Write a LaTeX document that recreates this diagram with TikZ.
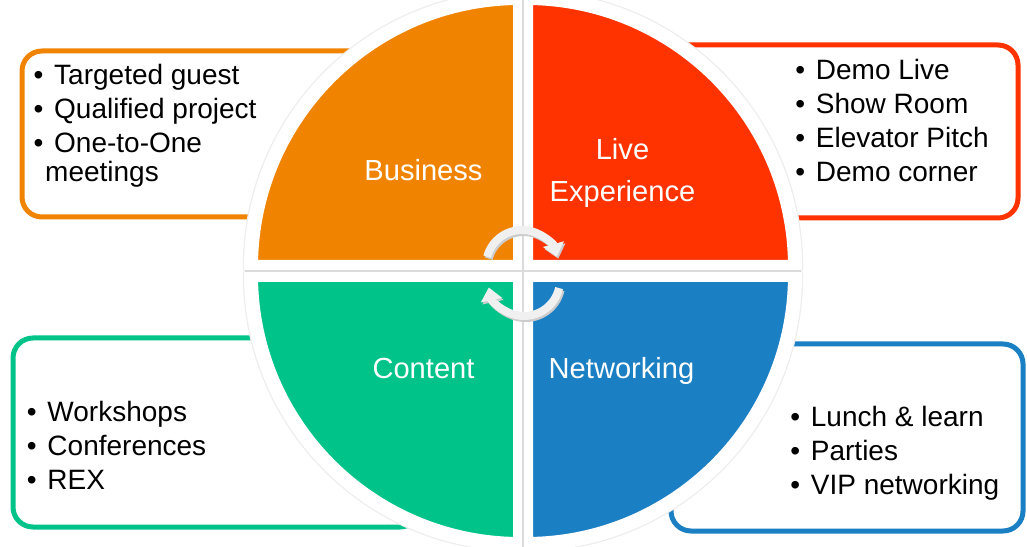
\documentclass[tikz,border=0pt]{standalone}
\usepackage{fontspec}
\setmainfont{Liberation Sans}
\usetikzlibrary{arrows.meta}
\definecolor{cOrange}{HTML}{F08300}
\definecolor{cRed}{HTML}{FF3300}
\definecolor{cGreen}{HTML}{00C389}
\definecolor{cBlue}{HTML}{1B7FC4}
\definecolor{arrowfill}{HTML}{F0F0F0}
\newcommand{\bl}{\makebox[20.5pt][l]{•}}
\begin{document}
\begin{tikzpicture}[x=1pt,y=1pt,
  infobox/.style={line width=5pt, rounded corners=20pt, fill=white},
  wedge/.style={fill=#1, draw=white, line width=14pt, line join=round},
  wedgeshadow/.style={draw=black!7, line width=16.5pt, line join=round},
  listtext/.style={anchor=base west, inner sep=0pt, font=\fontsize{28}{33.7}\selectfont},
  qlabel/.style={anchor=base, inner sep=0pt, text=white, font=\fontsize{29.1}{42}\selectfont},
  cyc/.style={line width=8pt, draw=arrowfill, -{Triangle[width=21pt,length=13pt]}},
  cycshadow/.style={line width=8pt, draw=black!20, -{Triangle[width=21pt,length=13pt]}},
]
\useasboundingbox (0,0) rectangle (1027,546);

% info boxes (behind the circle)
\draw[infobox, draw=cOrange] (22,329) rectangle (420,495);
\draw[infobox, draw=cRed] (620,328) rectangle (1018,501);
\draw[infobox, draw=cGreen] (13,19) rectangle (420,208);
\draw[infobox, draw=cBlue] (671,15) rectangle (1023,202);

% wedge shadows
\draw[wedgeshadow] (520,279) -- ++(-269,0) arc (180:90:269) -- cycle;
\draw[wedgeshadow] (526,279) -- ++(0,269) arc (90:0:269) -- cycle;
\draw[wedgeshadow] (520,271) -- ++(-269,0) arc (180:270:269) -- cycle;
\draw[wedgeshadow] (526,271) -- ++(0,-269) arc (270:360:269) -- cycle;

% wedges
\draw[wedge=cOrange] (520,279) -- ++(-269,0) arc (180:90:269) -- cycle;
\draw[wedge=cRed] (526,279) -- ++(0,269) arc (90:0:269) -- cycle;
\draw[wedge=cGreen] (520,271) -- ++(-269,0) arc (180:270:269) -- cycle;
\draw[wedge=cBlue] (526,271) -- ++(0,-269) arc (270:360:269) -- cycle;

% shadow lines in the gaps
\draw[black!14, line width=1.6pt] (523,-8) -- (523,554);
\draw[black!14, line width=1.6pt] (245,275) -- (801,275);

% cycle arrows
\draw[cycshadow] ([shift={(165:36)}]523.5,278) arc (165:15:36);
\draw[cycshadow] ([shift={(-13:36)}]525.5,264) arc (-13:-168:36);
\draw[cyc] ([shift={(165:36)}]522,280) arc (165:15:36);
\draw[cyc] ([shift={(-13:36)}]524,266) arc (-13:-168:36);

% quadrant labels
\node[qlabel] (business) at (423.5,365) {Business};
\node[qlabel] (live) at (622.5,386) {\begin{tabular}[t]{@{}c@{}}Live\\Experience\end{tabular}};
\node[qlabel] (content) at (423.5,167) {Content};
\node[qlabel] (networking) at (621.5,167) {Networking};

% lists
\node[listtext] (orangeList) at (33.5,461) {\begin{tabular}[t]{@{}l@{}}\bl Targeted guest\\ \bl Qualified project\\ \bl One-to-One\\[-5pt] \hspace*{11.5pt}meetings\end{tabular}};
\node[listtext] (redList) at (795.2,466) {\begin{tabular}[t]{@{}l@{}}\bl Demo Live\\ \bl Show Room\\ \bl Elevator Pitch\\ \bl Demo corner\end{tabular}};
\node[listtext] (greenList) at (26.8,124) {\begin{tabular}[t]{@{}l@{}}\bl Workshops\\ \bl Conferences\\ \bl REX\end{tabular}};
\node[listtext] (blueList) at (790.2,119) {\begin{tabular}[t]{@{}l@{}}\bl Lunch \& learn\\ \bl Parties\\ \bl VIP networking\end{tabular}};
\end{tikzpicture}
\end{document}
